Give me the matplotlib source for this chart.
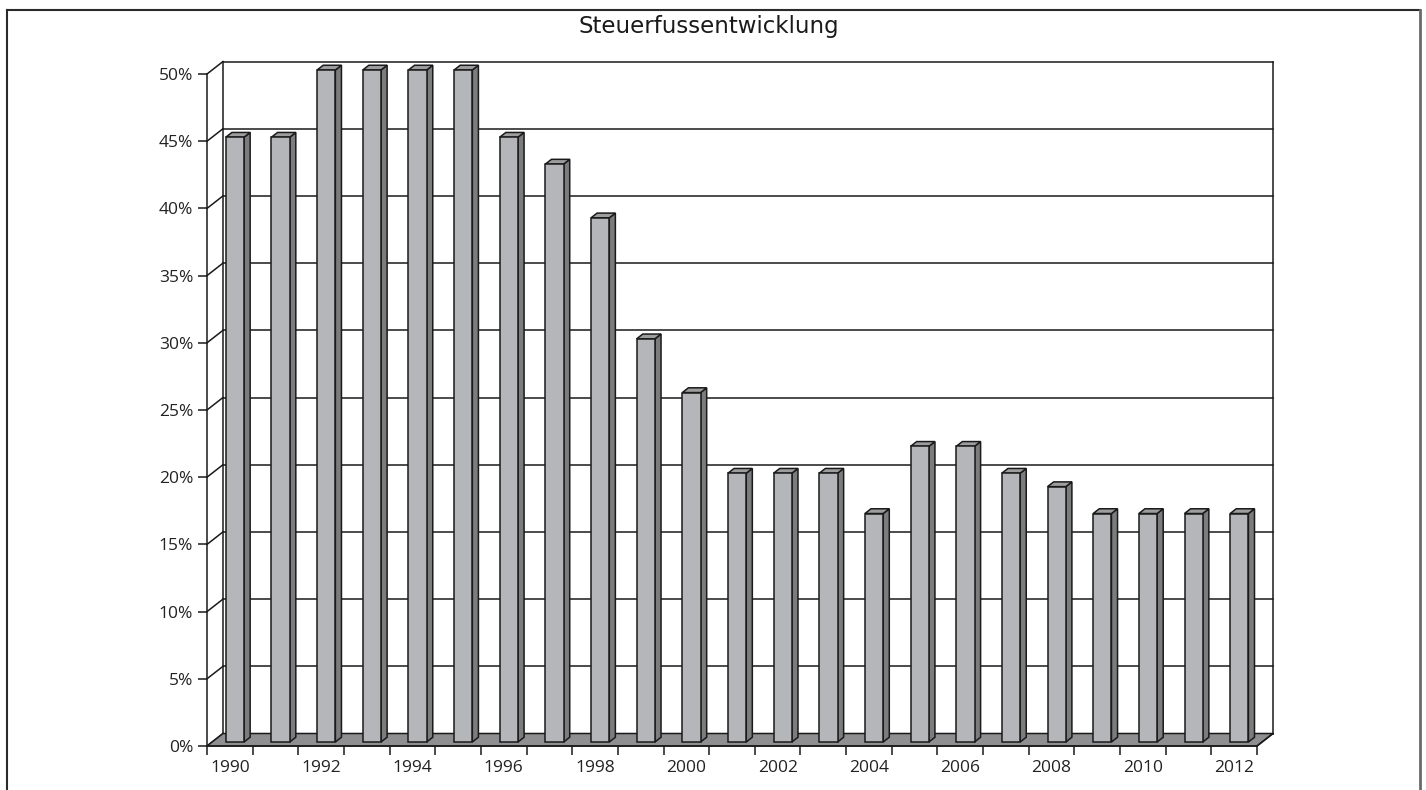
import matplotlib
matplotlib.use('Agg')
import matplotlib.pyplot as plt
from matplotlib.patches import Polygon, Rectangle
from matplotlib.lines import Line2D
from matplotlib.ticker import FuncFormatter

plt.rcParams['font.family'] = ['Open Sans', 'DejaVu Sans']

# data
years = list(range(1990, 2013))
rates = [45, 45, 50, 50, 50, 50, 45, 43, 39, 30, 26, 20, 20, 20, 17, 22, 22, 20, 19, 17, 17, 17, 17]
title = 'Steuerfussentwicklung'

W, H = 1426, 790
fig = plt.figure(figsize=(W / 100, H / 100), dpi=100)

# front plane of the 3D box, in pixels
x0, x1 = 207, 1257
y0, y1 = 746, 74
ax = fig.add_axes([x0 / W, (H - y0) / H, (x1 - x0) / W, (y0 - y1) / H])
n = len(years)
ax.set_xlim(0, n)
ax.set_ylim(0, 50)
ax.patch.set_visible(False)

# depth of the box in data units
ddx = 16 / ((x1 - x0) / n)
ddy = 12.5 / ((y0 - y1) / 50)

lw = 1.1
ink = '#1a1a1a'

# back wall gridlines + left wall diagonals
for v in range(0, 55, 5):
    ax.add_line(Line2D([ddx, n + ddx], [v + ddy, v + ddy], color=ink, lw=lw, zorder=1, clip_on=False))
    ax.add_line(Line2D([0, ddx], [v, v + ddy], color=ink, lw=lw, zorder=1, clip_on=False))
ax.add_line(Line2D([ddx, ddx], [ddy, 50 + ddy], color=ink, lw=lw, zorder=1, clip_on=False))
ax.add_line(Line2D([n + ddx, n + ddx], [ddy, 50 + ddy], color=ink, lw=lw, zorder=1, clip_on=False))

# floor
ax.add_patch(Polygon([(0, 0), (n, 0), (n + ddx, ddy), (ddx, ddy)], closed=True,
                     facecolor='#8f8f91', edgecolor=ink, lw=lw, zorder=2, clip_on=False))

# bars
bw = 0.4
f0, f1 = 0.32, 0.70
for i, v in enumerate(rates):
    xl = i + 0.5 - bw / 2
    xr = xl + bw
    ax0, ay0 = f0 * ddx, f0 * ddy
    ax1, ay1 = f1 * ddx, f1 * ddy
    front = Rectangle((xl + ax0, ay0), bw, v, facecolor='#b5b6ba', edgecolor=ink, lw=lw,
                      zorder=3, clip_on=False)
    side = Polygon([(xr + ax0, ay0), (xr + ax1, ay1), (xr + ax1, v + ay1), (xr + ax0, v + ay0)],
                   closed=True, facecolor='#7c7c7e', edgecolor=ink, lw=lw, zorder=3, clip_on=False)
    top = Polygon([(xl + ax0, v + ay0), (xr + ax0, v + ay0), (xr + ax1, v + ay1), (xl + ax1, v + ay1)],
                  closed=True, facecolor='#9d9d9f', edgecolor=ink, lw=lw, zorder=3, clip_on=False)
    ax.add_patch(side)
    ax.add_patch(top)
    ax.add_patch(front)

# right end of the floor front edge
ax.add_line(Line2D([n, n + ddx], [0, ddy], color=ink, lw=lw, zorder=4, clip_on=False))

# axes
for s in ['top', 'right']:
    ax.spines[s].set_visible(False)
for s in ['left', 'bottom']:
    ax.spines[s].set_color(ink)
    ax.spines[s].set_linewidth(lw)
    ax.spines[s].set_zorder(5)

ax.set_yticks(range(0, 55, 5))
ax.yaxis.set_major_formatter(FuncFormatter(lambda v, p: f'{int(v)}%'))
ax.tick_params(axis='y', direction='out', length=6.5, width=lw, color=ink, pad=3.5,
               labelsize=12.5, labelcolor='#222222')

ax.set_xticks(range(0, n + 1))
ax.set_xticklabels([])
ax.set_xticks([i + 0.5 for i in range(0, n, 2)], minor=True)
ax.set_xticklabels([str(years[i]) for i in range(0, n, 2)], minor=True)
ax.tick_params(axis='x', which='major', direction='out', length=6.5, width=lw, color=ink)
ax.tick_params(axis='x', which='minor', length=0, pad=10, labelsize=12.5, labelcolor='#222222')

fig.text(709 / W, 1 - 27 / H, title, ha='center', va='center', fontsize=16.5,
         family='DejaVu Sans', color='#1a1a1a')

# outer frame of the picture
fig.add_artist(Line2D([7 / W, 7 / W], [0, 1 - 10 / H], color='#2a2a2a', lw=1.5, transform=fig.transFigure))
fig.add_artist(Line2D([7 / W, 1420 / W], [1 - 10 / H, 1 - 10 / H], color='#2a2a2a', lw=1.5, transform=fig.transFigure))
fig.add_artist(Line2D([1420 / W, 1420 / W], [0, 1 - 10 / H], color='#6a6a6a', lw=2, transform=fig.transFigure))

fig.savefig('out.png', dpi=100)
